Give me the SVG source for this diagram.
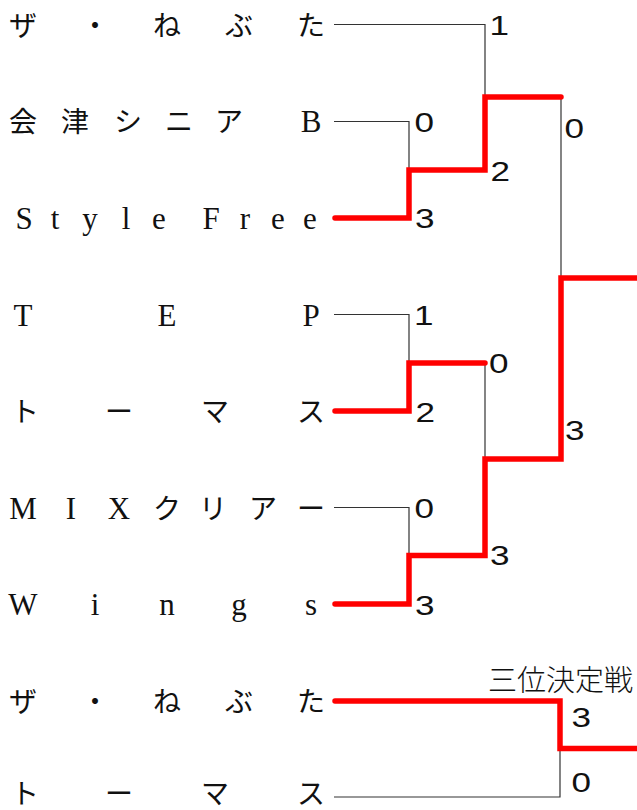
<svg xmlns="http://www.w3.org/2000/svg" width="637" height="810" viewBox="0 0 637 810">
<style>
.lbl{font-family:"Liberation Serif","Noto Sans CJK JP",serif;font-size:28px;fill:#111;text-anchor:middle}
.lat{font-family:"Liberation Serif",serif;font-size:31px}
.sc{font-family:"Liberation Sans",Arial,sans-serif;font-size:27px;fill:#111}
.hd{font-family:"Noto Sans CJK JP",sans-serif;font-size:29px;fill:#111;font-weight:300}
.thin{fill:none;stroke:#333;stroke-width:1.2}
.win{fill:none;stroke:#ff0000;stroke-width:5.5;stroke-linecap:round;stroke-linejoin:miter}
</style>
<rect width="637" height="810" fill="#fff"/>
<g id="connectors">
<path class="thin" d="M334,24.5 H485 V97"/>
<path class="thin" d="M334,121.5 H409 V170"/>
<path class="thin" d="M561,97 V278"/>
<path class="thin" d="M334,314.5 H409 V363"/>
<path class="thin" d="M485,363 V459"/>
<path class="thin" d="M334,507.5 H409 V555.5"/>
<path class="thin" d="M334,797 H560 V748.5"/>
<path class="win" d="M335,218 H409 V170 H485 V97 H561"/>
<path class="win" d="M335,411 H409 V363 H485"/>
<path class="win" d="M335,604 H409 V555.5 H485 V459 H561 V278 H642"/>
<path class="win" d="M335,701 H560 V748.5 H642"/>
</g>
<g id="team-1"><text class="lbl" x="23 95 167 239 311" y="35.5">ザ・ねぶた</text></g>
<g id="team-2"><text class="lbl" y="132"><tspan x="23 75 128 179 229">会津シニア</tspan><tspan class="lat" x="311">B</tspan></text></g>
<g id="team-3"><text class="lbl lat" x="24 55 90 126 159 184 211 245 278 310" y="228.5">Style Free</text></g>
<g id="team-4"><text class="lbl lat" x="23 167 311" y="325.5">TEP</text></g>
<g id="team-5"><text class="lbl" x="25 119 215 311" y="421.5">トーマス</text></g>
<g id="team-6"><text class="lbl" y="519"><tspan class="lat" x="23 71 119">MIX</tspan><tspan x="167 213 263 311">クリアー</tspan></text></g>
<g id="team-7"><text class="lbl lat" x="23 95 167 239 311" y="614.5">Wings</text></g>
<g id="third-1"><text class="lbl" x="23 95 167 239 311" y="711.5">ザ・ねぶた</text></g>
<g id="third-2"><text class="lbl" x="25 119 215 311" y="804">トーマス</text></g>
<g id="third-title"><text class="hd" x="488" y="691">三位決定戦</text></g>
<g id="scores">
<text class="sc" transform="translate(489.5 35) scale(1.3 1)">1</text>
<text class="sc" transform="translate(414.5 132) scale(1.3 1)">0</text>
<text class="sc" transform="translate(415 228) scale(1.3 1)">3</text>
<text class="sc" transform="translate(490.5 181) scale(1.3 1)">2</text>
<text class="sc" transform="translate(564.5 138) scale(1.3 1)">0</text>
<text class="sc" transform="translate(414 325) scale(1.3 1)">1</text>
<text class="sc" transform="translate(489 373) scale(1.3 1)">0</text>
<text class="sc" transform="translate(415.5 422) scale(1.3 1)">2</text>
<text class="sc" transform="translate(565 440) scale(1.3 1)">3</text>
<text class="sc" transform="translate(414.5 518) scale(1.3 1)">0</text>
<text class="sc" transform="translate(490 565) scale(1.3 1)">3</text>
<text class="sc" transform="translate(415 615) scale(1.3 1)">3</text>
<text class="sc" transform="translate(571.5 727) scale(1.3 1)">3</text>
<text class="sc" transform="translate(571.5 792) scale(1.3 1)">0</text>
</g>
</svg>
